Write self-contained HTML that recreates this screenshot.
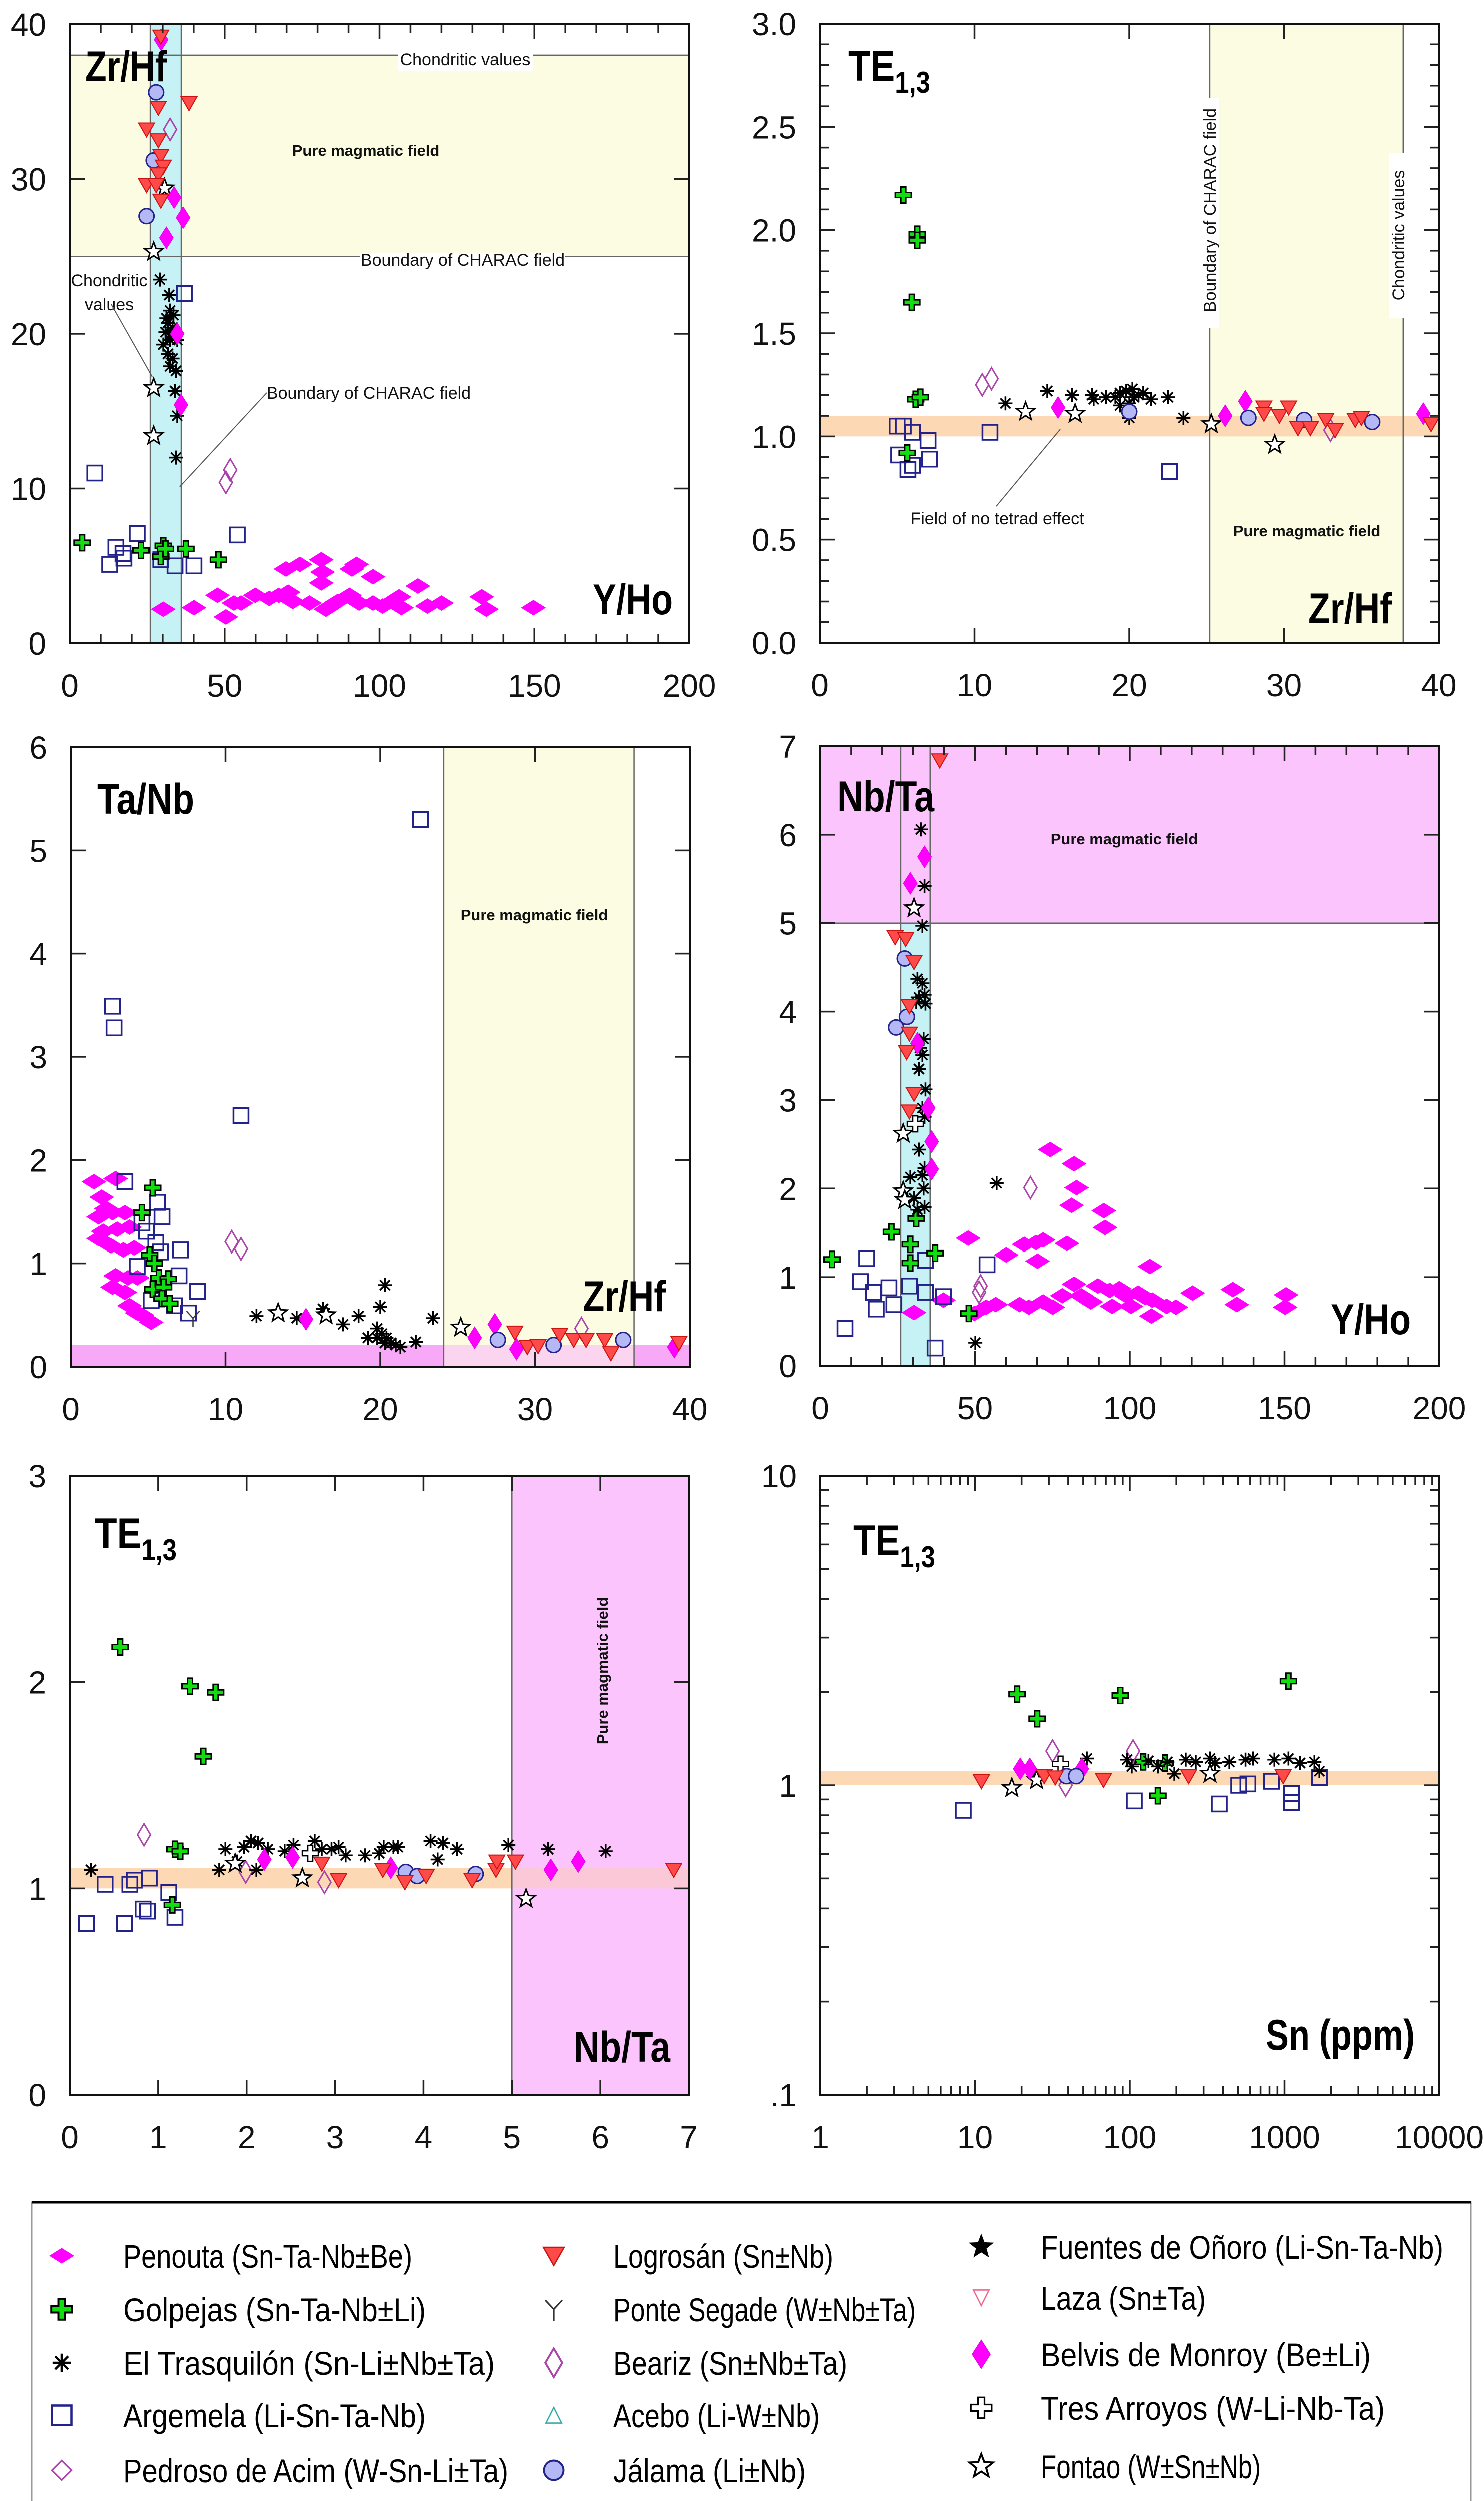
<!DOCTYPE html>
<html><head><meta charset="utf-8"><title>Tetrad effect and Zr/Hf, Nb/Ta, Y/Ho diagrams</title>
<style>html,body{margin:0;padding:0;background:#fff;width:2967px;height:5082px;overflow:hidden;position:relative}svg{display:block;position:absolute;left:0;top:0}text{font-family:"Liberation Sans",sans-serif}</style>
</head><body>
<svg id="chart" xmlns="http://www.w3.org/2000/svg" width="2967" height="5082" viewBox="0 0 2967 5082" overflow="hidden">
<rect x="0" y="0" width="2967" height="5082" fill="#fff"/>
</svg>
<script>
// ---------------- DATA ----------------
const p1_penouta=[[30.2,2.2],[40.1,2.3],[47.7,3.1],[50.4,1.7],[53,2.6],[55.3,2.6],[59.9,3.1],[64.4,2.9],[67.5,3.1],[70.5,3.3],[72,2.7],[69.8,4.8],[74.3,5.1],[77.4,2.6],[81.2,5.4],[81.6,4.6],[81.2,3.9],[82.7,2.2],[84.2,2.4],[86.5,2.7],[90.3,3.1],[91.1,4.8],[92.6,5.1],[93.4,2.6],[97.9,4.3],[97.9,2.6],[101,2.4],[104,2.7],[106.3,3.0],[107.1,2.3],[112.4,3.7],[115.5,2.4],[120,2.6],[133,3.0],[134.5,2.2],[149.7,2.3]];
const p1_argemela=[[37,22.6],[8.1,11],[21.8,7.1],[14.9,6.2],[12.9,5.1],[17.5,5.5],[29.4,5.4],[34,5.0],[40.1,5.0],[54.1,7.0],[17.2,5.8]];
const p1_golpejas=[[4,6.5],[23,6.0],[30.2,6.3],[29.4,5.6],[37.5,6.1],[48,5.4],[30.9,6.1]];
const p1_trasquilon=[[29.1,23.5],[32.1,22.5],[32.4,21.5],[31.7,20.7],[33.2,20.4],[30.9,20.1],[34,19.8],[30.2,19.3],[32.4,19.6],[34.7,19.6],[31.7,18.7],[33.2,18.4],[32.4,17.9],[34.3,17.6],[34,16.3],[34.7,14.7],[34.3,12.0],[31.2,21.0],[33.5,21.2],[32.8,20.0]];
const p1_fontao=[[30.6,29.4],[27.1,25.3],[27.1,16.5],[27.1,13.4]];
const p1_belvis=[[33.7,28.8],[36.6,27.5],[31.2,26.2],[35.9,15.4],[34.7,20.0],[29.5,39.0]];
const p1_beariz=[[32.4,33.2],[50.4,10.4],[51.8,11.2]];
const p1_jalama=[[27.9,35.6],[27.1,31.2],[24.8,27.6]];
const p1_logrosan=[[29.4,39.2],[28.6,34.6],[38.5,34.9],[24.8,33.2],[28.6,32.5],[29.4,31.5],[30.2,30.8],[28.6,30.3],[24.8,29.6],[27.9,29.6],[29.4,28.6]];
const p2_golpejas=[[5.4,2.17],[6.3,1.98],[6.3,1.95],[5.95,1.65],[6.2,1.18],[6.5,1.19],[5.65,0.92]];
const p2_argemela=[[5,1.05],[5.4,1.05],[6,1.02],[7,0.98],[5.1,0.91],[7.1,0.89],[6,0.86],[5.7,0.84],[11,1.02],[22.6,0.83]];
const p2_beariz=[[10.5,1.25],[11.1,1.28],[33,1.03]];
const p2_trasquilon=[[12,1.16],[14.7,1.22],[16.3,1.2],[17.6,1.2],[17.7,1.18],[18.5,1.19],[19.1,1.19],[19.4,1.21],[19.8,1.22],[20.2,1.23],[20.3,1.19],[20.6,1.2],[20.9,1.21],[21.4,1.18],[19.4,1.15],[20,1.16],[22.5,1.19],[23.5,1.09],[20,1.09]];
const p2_fontao=[[13.3,1.12],[16.5,1.11],[25.3,1.06],[29.4,0.96]];
const p2_belvis=[[15.4,1.14],[26.2,1.10],[27.5,1.17],[39,1.11]];
const p2_jalama=[[27.7,1.09],[31.3,1.08],[35.7,1.07],[20,1.12]];
const p2_logrosan=[[28.7,1.14],[29.7,1.10],[30.3,1.14],[30.9,1.04],[31.7,1.04],[32.7,1.08],[33.3,1.03],[34.6,1.08],[35,1.09],[39.5,1.06],[28.7,1.11]];
const p3_penouta=[[1.5,1.79],[2.9,1.82],[2.0,1.64],[2.3,1.53],[1.8,1.45],[2.7,1.49],[3.5,1.49],[2.1,1.31],[3.0,1.33],[3.8,1.35],[1.8,1.24],[2.6,1.17],[3.4,1.13],[4.1,1.15],[2.9,0.88],[3.7,0.86],[2.7,0.77],[3.5,0.72],[4.3,0.86],[3.8,0.59],[4.6,0.50],[5.2,0.43],[4.3,0.52]];
const p3_argemela=[[22.6,5.3],[2.7,3.49],[2.8,3.28],[11,2.43],[3.5,1.79],[5.6,1.59],[5.9,1.45],[4.6,1.39],[4.9,1.31],[5.5,1.2],[5.8,1.11],[7.1,1.13],[4.3,0.97],[7.0,0.88],[8.2,0.73],[7.6,0.52],[6.7,0.59],[5.2,0.64]];
const p3_golpejas=[[5.3,1.73],[4.6,1.49],[5.1,1.08],[5.4,1.0],[5.7,0.86],[6.3,0.85],[5.3,0.75],[6.0,0.77],[5.9,0.66],[6.4,0.61]];
const p3_belvis=[[15.2,0.46],[26.1,0.28],[27.4,0.41],[28.8,0.17],[39,0.19]];
const p3_beariz=[[10.4,1.21],[11,1.14],[33,0.37]];
const p3_trasquilon=[[12,0.49],[14.6,0.47],[16.3,0.56],[17.6,0.41],[18.6,0.49],[20,0.58],[20.3,0.79],[23.4,0.47],[22.3,0.24],[19.2,0.28],[19.8,0.37],[20.1,0.32],[20.4,0.28],[20.7,0.23],[21,0.21],[21.3,0.19],[19.8,0.28],[20.3,0.23]];
const p3_fontao=[[13.4,0.52],[16.5,0.50],[25.2,0.38]];
const p3_jalama=[[27.6,0.26],[31.2,0.21],[35.7,0.26]];
const p3_logrosan=[[28.7,0.33],[29.5,0.19],[30.2,0.20],[31.6,0.31],[32.5,0.26],[33.3,0.26],[34.5,0.26],[34.9,0.13],[39.3,0.23]];
const p3_ponte=[[7.9,0.47]];
const p4_penouta=[[30.3,0.6],[39.8,0.74],[47.8,1.44],[60.1,1.25],[65.9,1.37],[69.7,1.39],[72,1.42],[70.2,1.18],[79.7,1.38],[74.3,2.44],[82,2.28],[82.8,2.01],[81.2,1.81],[91.6,1.75],[92,1.56],[106.5,1.12],[49.8,0.59],[53.6,0.66],[56.7,0.69],[64.4,0.69],[67.4,0.66],[72,0.72],[75.1,0.66],[78.2,0.79],[82,0.92],[84.3,0.79],[87.4,0.72],[89.7,0.9],[93.5,0.85],[94.3,0.67],[96.6,0.87],[98.9,0.79],[100.4,0.67],[102.7,0.82],[105,0.77],[107.3,0.74],[107,0.56],[111.9,0.67],[114.9,0.66],[120.3,0.82],[133.3,0.86],[134.6,0.69],[150.5,0.8],[150.2,0.66]];
const p4_argemela=[[15,1.21],[13,0.95],[17.2,0.83],[22.2,0.88],[18.1,0.64],[23.8,0.69],[28.8,0.9],[34,0.83],[39.8,0.78],[34,1.19],[53.9,1.14],[8,0.42],[37.1,0.2]];
const p4_golpejas=[[3.8,1.2],[23,1.51],[29.1,1.37],[31,1.66],[29.1,1.16],[37.1,1.27],[48,0.59]];
const p4_trasquilon=[[32.5,6.06],[33.7,5.42],[33,4.97],[31.4,4.37],[33,4.32],[31.9,4.16],[33.7,4.19],[34,4.09],[31,4.11],[33.4,3.69],[32.2,3.59],[33,3.51],[31.9,3.35],[34,3.12],[33,2.91],[33.7,2.81],[31.9,2.44],[33.7,2.23],[33,2.15],[29.1,2.13],[33.4,2.0],[31.4,1.76],[33.7,1.79],[30.3,1.89],[50.1,0.26],[57,2.06]];
const p4_fontao=[[30.3,5.17],[26.8,2.62],[26.8,1.97],[27.3,1.87]];
const p4_tres=[[30.7,2.73]];
const p4_beariz=[[67.9,2.01],[51.3,0.83],[51.8,0.9]];
const p4_belvis=[[33.7,5.75],[29.1,5.45],[34.9,2.91],[36,2.53],[36,2.22],[31.4,3.64]];
const p4_jalama=[[27.3,4.6],[28,3.94],[24.5,3.82]];
const p4_logrosan=[[38.6,6.84],[24.2,4.84],[27.6,4.82],[30.3,4.56],[28.8,4.06],[28.8,3.75],[27.9,3.54],[30.3,3.07],[28.8,2.87]];
const p5_golpejas=[[0.57,2.17],[1.36,1.98],[1.65,1.95],[1.51,1.64],[1.19,1.19],[1.25,1.18],[1.16,0.92]];
const p5_argemela=[[0.19,0.83],[0.4,1.02],[0.68,1.02],[0.73,1.04],[0.9,1.05],[0.62,0.83],[0.83,0.9],[0.88,0.89],[1.12,0.98],[1.19,0.86]];
const p5_beariz=[[0.84,1.26],[2.88,1.03],[1.99,1.08]];
const p5_trasquilon=[[0.24,1.09],[1.69,1.09],[1.76,1.19],[1.97,1.2],[2.05,1.23],[2.13,1.22],[2.24,1.19],[2.43,1.18],[2.53,1.21],[2.77,1.23],[2.85,1.19],[2.96,1.19],[3.04,1.2],[3.12,1.16],[3.34,1.16],[3.5,1.17],[3.55,1.2],[3.66,1.2],[3.71,1.2],[4.08,1.23],[4.16,1.14],[4.22,1.22],[4.38,1.19],[4.96,1.21],[5.41,1.19],[6.06,1.18],[2.11,1.09],[1.89,1.13]];
const p5_fontao=[[2.63,1.05],[5.16,0.95],[1.87,1.12]];
const p5_tres=[[2.72,1.17]];
const p5_belvis=[[2.2,1.14],[2.52,1.15],[3.63,1.1],[5.44,1.09],[5.75,1.13]];
const p5_jalama=[[3.8,1.08],[3.93,1.06],[4.59,1.07]];
const p5_logrosan=[[2.85,1.12],[3.04,1.04],[3.54,1.09],[3.79,1.03],[4.03,1.06],[4.55,1.04],[4.82,1.09],[4.83,1.13],[5.04,1.13],[6.83,1.09]];
const p6_golpejas=[[18.7,1.97],[25.2,1.64],[86.8,1.95],[1060,2.17],[122,1.19],[169,1.18],[152,0.925]];
const p6_argemela=[[8.4,0.83],[107,0.89],[379,0.87],[506,1.0],[580,1.01],[825,1.03],[1110,0.94],[1110,0.88],[1680,1.06]];
const p6_trasquilon=[[52.8,1.22],[24.3,1.08],[96,1.21],[103,1.15],[132,1.2],[152,1.15],[175,1.19],[194,1.09],[230,1.21],[267,1.19],[330,1.22],[355,1.18],[440,1.19],[560,1.21],[626,1.22],[860,1.21],[1060,1.22],[1260,1.18],[1560,1.19],[1680,1.11]];
const p6_beariz=[[31.7,1.29],[105,1.29],[38.5,1.0]];
const p6_tres=[[35.7,1.17]];
const p6_belvis=[[19.6,1.13],[22.6,1.13],[49,1.13]];
const p6_jalama=[[39,1.07],[45,1.07]];
const p6_logrosan=[[11,1.03],[28,1.07],[33,1.06],[67.6,1.04],[240,1.07],[980,1.07]];
const p6_fontao=[[17.3,0.98],[330,1.09],[25,1.04]];
const p1XTicks=[0,50,100,150,200], p1XLabels=['0','50','100','150','200'];
const p1YTicks=[0,10,20,30,40], p1YLabels=['0','10','20','30','40'];
const p2XTicks=[0,10,20,30,40], p2XLabels=['0','10','20','30','40'];
const p2YTicks=[0,0.5,1,1.5,2,2.5,3], p2YLabels=['0.0','0.5','1.0','1.5','2.0','2.5','3.0'];
const p3XTicks=[0,10,20,30,40], p3XLabels=['0','10','20','30','40'];
const p3YTicks=[0,1,2,3,4,5,6], p3YLabels=['0','1','2','3','4','5','6'];
const p4XTicks=[0,50,100,150,200], p4XLabels=['0','50','100','150','200'];
const p4YTicks=[0,1,2,3,4,5,6,7], p4YLabels=['0','1','2','3','4','5','6','7'];
const p5XTicks=[0,1,2,3,4,5,6,7], p5XLabels=['0','1','2','3','4','5','6','7'];
const p5YTicks=[0,1,2,3], p5YLabels=['0','1','2','3'];
const p6XTicks=[1,10,100,1000,10000], p6XLabels=['1','10','100','1000','10000'];
const p6YTicks=[0.1,1,10], p6YLabels=['.1','1','10'];
const legendNames=['Penouta (Sn-Ta-Nb±Be)','Golpejas (Sn-Ta-Nb±Li)','El Trasquilón (Sn-Li±Nb±Ta)','Argemela (Li-Sn-Ta-Nb)','Pedroso de Acim (W-Sn-Li±Ta)','Logrosán (Sn±Nb)','Ponte Segade (W±Nb±Ta)','Beariz (Sn±Nb±Ta)','Acebo (Li-W±Nb)','Jálama (Li±Nb)','Fuentes de Oñoro (Li-Sn-Ta-Nb)','Laza (Sn±Ta)','Belvis de Monroy (Be±Li)','Tres Arroyos (W-Li-Nb-Ta)','Fontao (W±Sn±Nb)'];
const legendTypes=['penouta','golpejas','trasquilon','argemela','pedroso','logrosan','ponte','beariz','acebo','jalama','fuentes','laza','belvis','tres','fontao'];

// ---------------- DRAWING ----------------
const NS='http://www.w3.org/2000/svg';
const svg=document.getElementById('chart');
function el(tag,attrs,parent){const e=document.createElementNS(NS,tag);for(const k in attrs)e.setAttribute(k,attrs[k]);(parent||svg).appendChild(e);return e;}
function panel(name,x0,x1,y0,y1,xmin,xmax,ymin,ymax,log){
  const p={name,x0,x1,y0,y1,xmin,xmax,ymin,ymax,log};
  p.g=el('g',{});
  
  
  if(log){
    p.sx=v=>x0+(Math.log10(v)-Math.log10(xmin))/(Math.log10(xmax)-Math.log10(xmin))*(x1-x0);
    p.sy=v=>y1-(Math.log10(v)-Math.log10(ymin))/(Math.log10(ymax)-Math.log10(ymin))*(y1-y0);
  } else {
    p.sx=v=>x0+(v-xmin)/(xmax-xmin)*(x1-x0);
    p.sy=v=>y1-(v-ymin)/(ymax-ymin)*(y1-y0);
  }
  return p;
}
function field(p,a,b,c,d,color,nm){
  const X0=p.sx(a),X1=p.sx(b),Y0=p.sy(d),Y1=p.sy(c);
  const r=el('rect',{x:X0,y:Y0,width:X1-X0,height:Y1-Y0,fill:color},p.g);
  
  
}
function vline(p,v,nm){const l=el('line',{x1:p.sx(v),x2:p.sx(v),y1:p.y0,y2:p.y1,stroke:'#666',"stroke-width":2.5},p.g);
  
  }
function hline(p,v,nm){const l=el('line',{x1:p.x0,x2:p.x1,y1:p.sy(v),y2:p.sy(v),stroke:'#666',"stroke-width":2.5},p.g);
  
  }
function marker(type,cx,cy,s,parent){
  s=s||1;const g=el('g',{transform:`translate(${cx},${cy}) scale(${s})`},parent);
  
  
  if(type==='penouta') el('polygon',{points:'-24,0 0,-15 24,0 0,15',fill:'#ff00ff',stroke:'#ff00ff','stroke-width':1},g);
  else if(type==='belvis') el('polygon',{points:'-14,0 0,-22 14,0 0,22',fill:'#ff00ff',stroke:'#e000e0','stroke-width':1},g);
  else if(type==='golpejas') el('polygon',{points:'-5,-16 5,-16 5,-5 16,-5 16,5 5,5 5,16 -5,16 -5,5 -16,5 -16,-5 -5,-5',fill:'#11dd11',stroke:'#000','stroke-width':3},g);
  else if(type==='tres') el('polygon',{points:'-5,-16 5,-16 5,-5 16,-5 16,5 5,5 5,16 -5,16 -5,5 -16,5 -16,-5 -5,-5',fill:'#fff',stroke:'#000','stroke-width':2.5},g);
  else if(type==='trasquilon'){el('path',{d:'M0,-14V14M-14,0H14M-10,-10L10,10M-10,10L10,-10',stroke:'#000','stroke-width':3.5,fill:'none'},g);}
  else if(type==='argemela') el('rect',{x:-15,y:-15,width:30,height:30,fill:'none',stroke:'#22228a','stroke-width':3.5},g);
  else if(type==='pedroso') el('polygon',{points:'-15,0 0,-15 15,0 0,15',fill:'none',stroke:'#aa44aa','stroke-width':2.5},g);
  else if(type==='beariz') el('polygon',{points:'-13,0 0,-22 13,0 0,22',fill:'none',stroke:'#aa44aa','stroke-width':3},g);
  else if(type==='logrosan') el('polygon',{points:'-16,-13 16,-13 0,15',fill:'#ff4a4a',stroke:'#cc1111','stroke-width':2},g);
  else if(type==='laza') el('polygon',{points:'-12,-12 12,-12 0,12',fill:'none',stroke:'#ee6688','stroke-width':2},g);
  else if(type==='acebo') el('polygon',{points:'-12,12 12,12 0,-12',fill:'none',stroke:'#33aaaa','stroke-width':2},g);
  else if(type==='ponte') el('path',{d:'M0,18V0M0,0L-13,-14M0,0L13,-14',stroke:'#333','stroke-width':2.5,fill:'none'},g);
  else if(type==='jalama') el('circle',{r:15,fill:'#b4b8f4',stroke:'#22228a','stroke-width':3},g);
  else if(type==='fontao'||type==='fuentes'){
    let pts=[];for(let i=0;i<10;i++){const r=i%2?8:19,a=-Math.PI/2+i*Math.PI/5;pts.push((r*Math.cos(a)).toFixed(1)+','+(r*Math.sin(a)).toFixed(1));}
    el('polygon',{points:pts.join(' '),fill:type==='fuentes'?'#000':'#fff',stroke:'#000','stroke-width':type==='fuentes'?1:3},g);
  }
  return g;
}
function series(p,data,type){
  const g=el('g',{},p.g);
  
  
  data.forEach(d=>{marker(type,p.sx(d[0]),p.sy(d[1]),1,g);});
}
function axes(p,xt,xl,yt,yl,xMinor,yMinor){
  const g=el('g',{},p.g);
  
  
  let d='';
  const M=30,m=18;
  xt.forEach(v=>{const X=p.sx(v);d+=`M${X},${p.y1}v${-M}M${X},${p.y0}v${M}`;});
  (xMinor||[]).forEach(v=>{const X=p.sx(v);d+=`M${X},${p.y1}v${-m}M${X},${p.y0}v${m}`;});
  yt.forEach(v=>{const Y=p.sy(v);d+=`M${p.x0},${Y}h${M}M${p.x1},${Y}h${-M}`;});
  (yMinor||[]).forEach(v=>{const Y=p.sy(v);d+=`M${p.x0},${Y}h${m}M${p.x1},${Y}h${-m}`;});
  const t=el('path',{d,stroke:'#222','stroke-width':3.5,fill:'none'},g);
  
  
  const f=el('rect',{x:p.x0,y:p.y0,width:p.x1-p.x0,height:p.y1-p.y0,fill:'none',stroke:'#111','stroke-width':4},g);
  
  
  xt.forEach((v,i)=>{const tx=el('text',{x:p.sx(v),y:p.y1+107,'font-size':64,'text-anchor':'middle',fill:'#111'},g);tx.textContent=xl[i];
    
    });
  yt.forEach((v,i)=>{const tx=el('text',{x:p.x0-47,y:p.sy(v)+23,'font-size':64,'text-anchor':'end',fill:'#111'},g);tx.textContent=yl[i];
    
    });
}
function label(p,txt,x,y,opts,nm){
  const t=el('text',Object.assign({x,y,fill:'#111'},opts),p?p.g:svg);
  t.textContent=txt;
  
  
  return t;
}
function whiteBox(p,x,y,w,h){el('rect',{x,y,width:w,height:h,fill:'#fff'},p.g);}
function title(p,main,sub,x,y,len,anchor,nm){
  const t=el('text',{x,y,'font-size':86,'font-weight':'bold',fill:'#000','text-anchor':anchor||'start'},p.g);
  
  
  const a=el('tspan',{},t);a.textContent=main;
  if(sub){const b=el('tspan',{dy:24,'font-size':60},t);b.textContent=sub;}
  if(len){t.setAttribute('textLength',len);t.setAttribute('lengthAdjust','spacingAndGlyphs');}
}
function range(a,b,s){const r=[];for(let v=a;v<=b+1e-9;v+=s)r.push(+v.toFixed(6));return r;}

const P1=panel('panel-zrhf-vs-yho',139,1378,48,1286,0,200,0,40);
field(P1,0,200,25,38,'#fcfce2','pure-magmatic-field');
field(P1,26,36,0,40,'#c6f2f6','chondritic-yho-band');
hline(P1,38,'chondritic-zrhf-line');hline(P1,25,'charac-boundary-line');
vline(P1,26,'band-left-line');vline(P1,36,'band-right-line');
whiteBox(P1,795,105,270,36);whiteBox(P1,720,505,410,36);
label(P1,'Chondritic values',930,130,{'font-size':34,'text-anchor':'middle'},'chondritic-values-label');
label(P1,'Pure magmatic field',731,311,{'font-size':31,'font-weight':'bold','text-anchor':'middle'},'pure-magmatic-field-label');
label(P1,'Boundary of CHARAC field',925,531,{'font-size':34,'text-anchor':'middle'},'charac-boundary-label');
label(P1,'Chondritic',218,572,{'font-size':34,'text-anchor':'middle'},'chondritic-yho-label');
label(P1,'values',218,620,{'font-size':34,'text-anchor':'middle'},'chondritic-yho-label-2');
label(P1,'Boundary of CHARAC field',737,797,{'font-size':34,'text-anchor':'middle'},'charac-yho-label');
el('path',{d:'M222,608L304,753M533,785L359,973',stroke:'#555','stroke-width':2,fill:'none'},P1.g);
series(P1,p1_penouta,'penouta');series(P1,p1_argemela,'argemela');series(P1,p1_golpejas,'golpejas');
series(P1,p1_trasquilon,'trasquilon');series(P1,p1_fontao,'fontao');series(P1,p1_belvis,'belvis');
series(P1,p1_beariz,'beariz');series(P1,p1_jalama,'jalama');series(P1,p1_logrosan,'logrosan');
axes(P1,p1XTicks,p1XLabels,p1YTicks,p1YLabels,range(10,190,10),[]);
title(P1,'Zr/Hf',null,170,162,163,'start','y-axis-title');
title(P1,'Y/Ho',null,1345,1228,160,'end','x-axis-title');

const P2=panel('panel-te13-vs-zrhf',1639,2877,47,1285,0,40,0,3);
field(P2,25.2,37.7,0,3,'#fcfce2','pure-magmatic-field');
field(P2,0,40,1.0,1.1,'#fcd8b4','no-tetrad-field');
vline(P2,25.2,'charac-boundary-line');vline(P2,37.7,'chondritic-line');
whiteBox(P2,2400,195,38,460);whiteBox(P2,2778,305,38,330);
label(P2,'Boundary of CHARAC field',0,0,{'font-size':34,'text-anchor':'middle',transform:'translate(2431,420) rotate(-90)'},'charac-boundary-label');
label(P2,'Chondritic values',0,0,{'font-size':34,'text-anchor':'middle',transform:'translate(2808,470) rotate(-90)'},'chondritic-values-label');
label(P2,'Field of no tetrad effect',1994,1048,{'font-size':34,'text-anchor':'middle'},'no-tetrad-label');
el('path',{d:'M1992,1012L2120,858',stroke:'#555','stroke-width':2,fill:'none'},P2.g);
label(P2,'Pure magmatic field',2613,1072,{'font-size':31,'font-weight':'bold','text-anchor':'middle'},'pure-magmatic-field-label');
series(P2,p2_argemela,'argemela');series(P2,p2_golpejas,'golpejas');series(P2,p2_beariz,'beariz');
series(P2,p2_trasquilon,'trasquilon');series(P2,p2_fontao,'fontao');series(P2,p2_belvis,'belvis');
series(P2,p2_jalama,'jalama');series(P2,p2_logrosan,'logrosan');
axes(P2,p2XTicks,p2XLabels,p2YTicks,p2YLabels,[],range(0.1,2.9,0.1));
title(P2,'TE','1,3',1696,161,164,'start','y-axis-title');
title(P2,'Zr/Hf',null,2783,1246,167,'end','x-axis-title');

const P3=panel('panel-tanb-vs-zrhf',141,1379,1494,2732,0,40,0,6);
field(P3,24.1,36.4,0,6,'#fcfce2','pure-magmatic-field');
field(P3,0,40,0,0.21,'#f7a8f7','ta-nb-field');
field(P3,24.1,36.4,0,0.21,'#fbd4f0','overlap-field');
vline(P3,24.1,'field-left-line');vline(P3,36.4,'field-right-line');
label(P3,'Pure magmatic field',1068,1840,{'font-size':31,'font-weight':'bold','text-anchor':'middle'},'pure-magmatic-field-label');
series(P3,p3_penouta,'penouta');series(P3,p3_argemela,'argemela');series(P3,p3_golpejas,'golpejas');
series(P3,p3_beariz,'beariz');series(P3,p3_trasquilon,'trasquilon');series(P3,p3_fontao,'fontao');
series(P3,p3_belvis,'belvis');series(P3,p3_jalama,'jalama');series(P3,p3_logrosan,'logrosan');series(P3,p3_ponte,'ponte');
axes(P3,p3XTicks,p3XLabels,p3YTicks,p3YLabels,[],[]);
title(P3,'Ta/Nb',null,194,1627,194,'start','y-axis-title');
title(P3,'Zr/Hf',null,1331,2621,166,'end','x-axis-title');

const P4=panel('panel-nbta-vs-yho',1640,2878,1492,2730,0,200,0,7);
field(P4,0,200,5,7,'#fcc4fc','pure-magmatic-field');
field(P4,26,35.5,0,5,'#c6f2f6','chondritic-yho-band');
vline(P4,26,'band-left-line');vline(P4,35.5,'band-right-line');hline(P4,5,'field-boundary-line');
label(P4,'Pure magmatic field',2248,1688,{'font-size':31,'font-weight':'bold','text-anchor':'middle'},'pure-magmatic-field-label');
series(P4,p4_penouta,'penouta');series(P4,p4_argemela,'argemela');series(P4,p4_golpejas,'golpejas');
series(P4,p4_beariz,'beariz');series(P4,p4_trasquilon,'trasquilon');series(P4,p4_fontao,'fontao');series(P4,p4_tres,'tres');
series(P4,p4_belvis,'belvis');series(P4,p4_jalama,'jalama');series(P4,p4_logrosan,'logrosan');
axes(P4,p4XTicks,p4XLabels,p4YTicks,p4YLabels,range(10,190,10),[]);
title(P4,'Nb/Ta',null,1674,1622,194,'start','y-axis-title');
title(P4,'Y/Ho',null,2821,2667,160,'end','x-axis-title');

const P5=panel('panel-te13-vs-nbta',139,1377,2950,4188,0,7,0,3);
field(P5,5,7,0,3,'#fcc4fc','pure-magmatic-field');
field(P5,0,5,1.0,1.1,'#fcd8b4','no-tetrad-field');
field(P5,5,7,1.0,1.1,'#fbc8d8','overlap-field');
vline(P5,5,'field-boundary-line');
label(P5,'Pure magmatic field',0,0,{'font-size':31,'font-weight':'bold','text-anchor':'middle',transform:'translate(1215,3340) rotate(-90)'},'pure-magmatic-field-label');
series(P5,p5_argemela,'argemela');series(P5,p5_golpejas,'golpejas');series(P5,p5_beariz,'beariz');
series(P5,p5_trasquilon,'trasquilon');series(P5,p5_fontao,'fontao');series(P5,p5_tres,'tres');
series(P5,p5_belvis,'belvis');series(P5,p5_jalama,'jalama');series(P5,p5_logrosan,'logrosan');
axes(P5,p5XTicks,p5XLabels,p5YTicks,p5YLabels,[],[]);
title(P5,'TE','1,3',189,3095,164,'start','y-axis-title');
title(P5,'Nb/Ta',null,1340,4122,193,'end','x-axis-title');

const P6=panel('panel-te13-vs-sn',1640,2878,2950,4188,1,10000,0.1,10,true);
field(P6,1,10000,1.0,1.11,'#fcd8b4','no-tetrad-field');
series(P6,p6_argemela,'argemela');series(P6,p6_golpejas,'golpejas');series(P6,p6_beariz,'beariz');
series(P6,p6_trasquilon,'trasquilon');series(P6,p6_fontao,'fontao');series(P6,p6_tres,'tres');
series(P6,p6_belvis,'belvis');series(P6,p6_jalama,'jalama');series(P6,p6_logrosan,'logrosan');
const p6xm=[],p6ym=[];
[1,10,100,1000].forEach(d=>{for(let k=2;k<10;k++)p6xm.push(d*k);});
[0.1,1].forEach(d=>{for(let k=2;k<10;k++)p6ym.push(d*k);});
axes(P6,p6XTicks,p6XLabels,p6YTicks,p6YLabels,p6xm,p6ym);
title(P6,'TE','1,3',1706,3109,164,'start','y-axis-title');
title(P6,'Sn (ppm)',null,2829,4098,298,'end','x-axis-title');

const LG=el('g',{});


const lb=el('rect',{x:63,y:4403,width:2878,height:636,fill:'#fff',stroke:'#999','stroke-width':3},LG);


el('line',{x1:63,x2:2941,y1:4403,y2:4403,stroke:'#000','stroke-width':5},LG);
const colMX=[123,1107,1962], colTX=[246,1226,2081];
const rowY=[[4510,4617,4724,4829,4939],[4510,4617,4724,4829,4939],[4492,4594,4707,4814,4931]];
legendNames.forEach((n,i)=>{
  const c=Math.floor(i/5),r=i%5;
  const g=el('g',{},LG);
  
  
  marker(legendTypes[i],colMX[c],rowY[c][r],legendTypes[i]==='penouta'?1.0:1.3,g);
  const w=Math.min(Math.round(n.length*27.5),c===2?805:900);
  const t=el('text',{x:colTX[c],y:rowY[c][r]+24,'font-size':66,fill:'#000',textLength:w,lengthAdjust:'spacingAndGlyphs'},g);
  t.textContent=n;
  
  
});
</script>
</body></html>
